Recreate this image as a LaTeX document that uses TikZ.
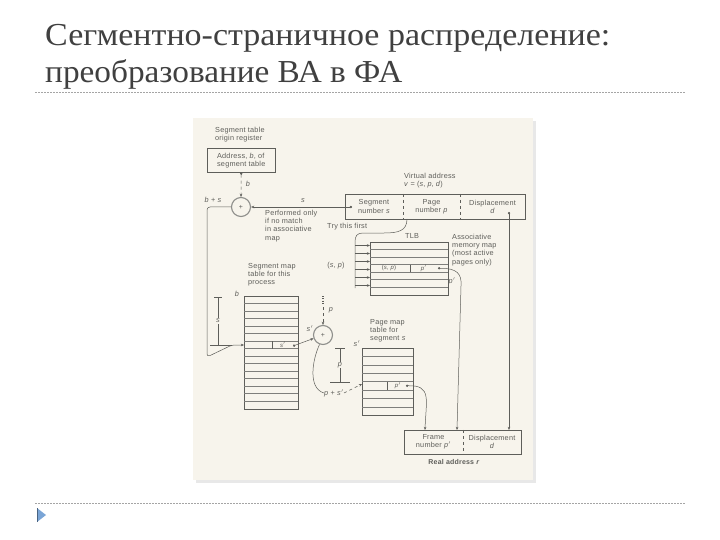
\documentclass[tikz,border=0pt]{standalone}
\usepackage{fontspec}
\usepackage{graphicx}
\setmainfont{Liberation Serif}
\newfontfamily\diagfont[LetterSpace=3]{Liberation Sans}
\usetikzlibrary{arrows.meta,calc}
\definecolor{scan}{HTML}{F7F4EC}
\definecolor{ink}{HTML}{5E5E5A}
\definecolor{titlec}{HTML}{404040}
\definecolor{rulec}{HTML}{A5A5A5}
\definecolor{bulletc}{HTML}{7AA5D6}
\begin{document}
\begin{tikzpicture}[x=1pt,y=-1pt,
  lbl/.style={font=\diagfont\fontsize{7.3}{8.2}\selectfont, text=ink, inner sep=0pt, align=left},
  small/.style={lbl, font=\diagfont\fontsize{6}{6.5}\selectfont},
  ln/.style={draw=ink, line width=0.5pt},
  arr/.style={ln, -{Stealth[length=3.2pt,width=2.6pt]}},
  darr/.style={ln, {Circle[length=2.3pt]}-{Stealth[length=3.2pt,width=2.6pt]}},
  adder/.style={circle, draw=ink!70, line width=1.1pt, minimum size=19pt, inner sep=0pt, font=\diagfont\fontsize{7}{7}\selectfont, text=ink},
  cell/.style={lbl, align=center, minimum height=25pt},
  ttl/.style={anchor=base west, font=\fontsize{32}{38}\selectfont, text=titlec, inner sep=0pt},
  rul/.style={draw=rulec, line width=0.6pt, dash pattern=on 2pt off 1pt}
]
\useasboundingbox (0,0) rectangle (720,540);
\fill[white] (0,0) rectangle (720,540);
% title
\node[ttl] (t1) at (45,46) {\scalebox{1.062}[1]{Сегментно-страничное распределение:}};
\node[ttl] (t2) at (45,83) {\scalebox{1.04}[1]{преобразование ВА в ФА}};
\draw[rul] (35,92) -- (685,92);
\draw[rul] (35,503) -- (685,503);
\fill[bulletc] (37,508) -- (46,515) -- (37,522) -- cycle;
\draw[bulletc!60!black, line width=0.6pt] (37,508) -- (37,522);
% scanned figure background
\fill[gray!18] (196,121) rectangle (536,483);
\fill[scan] (193,118) rectangle (533,480);

% segment table origin register
\node[lbl, anchor=north west] (streg) at (215,127) {Segment table\\origin register};
\node[lbl, draw=ink, line width=0.5pt, minimum width=68pt, minimum height=24pt, align=left, anchor=north west] (addr) at (207,148) {Address, \textit{b}, of\\segment table};
\node[adder] (add1) at (241,207) {+};
\draw[darr, dashed] (addr.south) -- (add1.north);
\node[lbl] (blbl) at (248,184) {\textit{b}};
\node[lbl] (bs) at (213,200) {\textit{b} + \textit{s}};

% virtual address
\node[lbl, anchor=north west] (vatxt) at (404,173) {Virtual address\\\textit{v} = (\textit{s}, \textit{p}, \textit{d})};
\node[cell, minimum width=58pt] (vseg) at (374,206.5) {Segment\\number \textit{s}};
\node[cell, minimum width=57pt] (vpage) at (431.5,206.5) {Page\\number \textit{p}};
\node[cell, minimum width=65pt] (vdisp) at (492.5,206.5) {Displacement\\\textit{d}};
\draw[ln] (vseg.north west) rectangle (vdisp.south east);
\draw[ln, dashed] (vseg.north east) -- (vseg.south east);
\draw[ln, dashed] (vpage.north east) -- (vpage.south east);
\coordinate (sdot) at (352,207);
\draw[darr] (sdot) -- (add1.east);
\node[lbl] (slbl) at (303,201) {\textit{s}};
\node[lbl, anchor=north west] (perf) at (265,210) {Performed only\\if no match\\in associative\\map};

% TLB
\node[lbl, anchor=west] (try) at (327,227) {Try this first};
\node[lbl] (tlbl) at (412,236) {TLB};
\node[minimum width=78pt, minimum height=52.5pt, inner sep=0pt, anchor=north west] (tlb) at (370,242) {};
\draw[ln] (tlb.north west) rectangle (tlb.south east);
\foreach \k in {1,...,6} \draw[ln, ink!80] (370,242+7.5*\k) -- (448,242+7.5*\k);
\draw[ln] (410,264.5) -- (410,272);
\node[small] (tsp) at (389,268.3) {(\textit{s}, \textit{p})};
\node[small] (tpp) at (424,268.3) {\textit{p}$'$};
\coordinate (bus) at (355,242);
\draw[ln] (407,219) .. controls (407,231) and (398,233) .. (384,233) -- (363,233) .. controls (357,233) and (355,236) .. (bus) -- (355,288);
\foreach \k in {0,...,5} \draw[arr] (355,245.5+8*\k) -- (370,245.5+8*\k);
\node[lbl] (splbl) at (336,266) {(\textit{s}, \textit{p})};
\node[lbl, anchor=north west] (assoc) at (452,234) {Associative\\memory map\\(most active\\pages only)};

% real address
\node[cell, minimum width=59pt, minimum height=24pt] (rframe) at (433.5,442) {Frame\\number \textit{p}$'$};
\node[cell, minimum width=58pt, minimum height=24pt] (rdisp) at (492,442) {Displacement\\\textit{d}};
\draw[ln] (rframe.north west) rectangle (rdisp.south east);
\draw[ln, dashed] (rframe.north east) -- (rframe.south east);
\node[lbl, font=\diagfont\bfseries\fontsize{7}{7}\selectfont] (ralbl) at (454,462) {Real address \textit{r}};

\coordinate (tdot) at (438,268.3);
\coordinate (tin) at (457,430);
\draw[darr] (tdot) .. controls (457,268) and (462,274) .. (461,286) -- (tin);
\node[lbl] (tp2) at (452,281) {\textit{p}$'$};
\coordinate (ddot) at (509,212);
\coordinate (din) at (509,430);
\draw[darr] (ddot) -- (din);

% segment table
\node[lbl, anchor=north west] (smtxt) at (248,263) {Segment map\\table for this\\process};
\node[minimum width=54pt, minimum height=112.5pt, inner sep=0pt, anchor=north west] (segtab) at (244,296) {};
\draw[ln] (segtab.north west) rectangle (segtab.south east);
\foreach \k in {1,...,14} \draw[ln, ink!80] (244,296+7.5*\k) -- (298,296+7.5*\k);
\draw[ln] (272,341) -- (272,348.5);
\node[small] (sprow) at (283,344.8) {\textit{s}$'$};
\node[lbl] (b2) at (237,294) {\textit{b}};
\coordinate (srow) at (244,345);
\draw[arr, rounded corners=3pt] (add1.west) -- (207,207) -- (207,357) -- (232,345) -- (srow);
\draw[ln] (214,297) -- (222,297);
\draw[ln] (218,297) -- (218,345);
\draw[ln] (210,345) -- (232,345);
\node[lbl, fill=scan, inner sep=0.6pt] (sdim) at (218,321) {\textit{s}};

% second adder
\node[adder] (add2) at (323,335) {+};
\draw[ink, line width=1.4pt, dash pattern=on 1pt off 1.3pt] (323,296) -- (323,305);
\coordinate (ptop) at (323,307);
\draw[arr, dashed] (ptop) -- (add2.north);
\node[lbl] (plbl) at (331,310) {\textit{p}};
\coordinate (spdot) at (293,346);
\draw[darr] (spdot) -- (add2.200);
\node[lbl] (sp2) at (310,329) {\textit{s}$'$};

% page table
\node[lbl, anchor=north west] (pmtxt) at (370,319) {Page map\\table for\\segment \textit{s}};
\node[minimum width=51pt, minimum height=67.2pt, inner sep=0pt, anchor=north west] (pgtab) at (362,348) {};
\draw[ln] (pgtab.north west) rectangle (pgtab.south east);
\foreach \k in {1,...,7} \draw[ln, ink!80] (362,348+8.4*\k) -- (413,348+8.4*\k);
\draw[ln] (387,381.6) -- (387,390);
\node[small] (pprow) at (398,385.8) {\textit{p}$'$};
\node[lbl] (sp3) at (357,344) {\textit{s}$'$};
\draw[ln] (335,348) -- (345,348);
\draw[ln] (340,348) -- (340,382);
\draw[ln] (330,382) -- (350,382);
\node[lbl, fill=scan, inner sep=0.6pt] (pdim) at (340,365) {\textit{p}};
\node[lbl] (ps) at (334,393) {\textit{p} + \textit{s}$'$};
\coordinate (prow) at (362,384);
\draw[ln] (add2.250) .. controls (313,358) and (307,388) .. (ps.west);
\draw[arr, dashed] (ps.east) -- (prow);
\coordinate (pdot) at (406,385.8);
\coordinate (fin) at (425,430);
\draw[darr] (pdot) .. controls (432,385) and (426,400) .. (fin);
\end{tikzpicture}
\end{document}
